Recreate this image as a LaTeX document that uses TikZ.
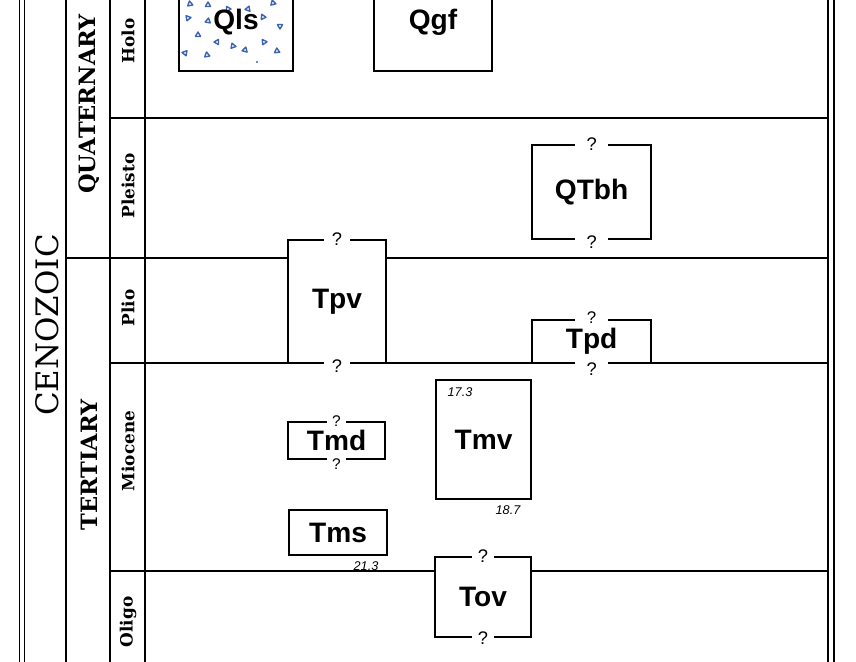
\documentclass[tikz,border=0pt]{standalone}
\usepackage{fontspec}
\newfontfamily\chartserif{DejaVu Serif}
\newfontfamily\lettering{Liberation Sans}
\definecolor{slideblue}{RGB}{60,100,175}

\begin{document}
\begin{tikzpicture}[
  frame/.style={line width=0.9pt},
  period/.style={line width=1.3pt},
  unit/.style={draw, line width=1.6pt, inner sep=0pt,
    font=\lettering\bfseries\fontsize{20}{24}\selectfont},
  qmark/.style={fill=white, inner xsep=0.2cm, inner ysep=0.5pt,
    font=\lettering\fontsize{13}{15}\selectfont},
  age/.style={inner sep=0pt, font=\lettering\itshape\fontsize{9}{10}\selectfont},
  era/.style={rotate=90, font=\chartserif\bfseries\fontsize{16}{18}\selectfont},
  epoch/.style={rotate=90, font=\chartserif\bfseries\fontsize{12}{14}\selectfont},
  slide/.style={slideblue, line width=1pt, line join=round}
]
\clip (0,0) rectangle (21.4,16.55);
% column frame
\draw[frame] (0.48,-0.2) -- (0.48,16.8);
\draw[frame] (0.62,-0.2) -- (0.62,16.8);
\draw[period] (1.65,-0.2) -- (1.65,16.8);
\draw[period] (2.75,-0.2) -- (2.75,16.8);
\draw[period] (3.625,-0.2) -- (3.625,16.8);
\draw[frame] (20.7,-0.2) -- (20.7,16.8);
\draw[frame] (20.85,-0.2) -- (20.85,16.8);
% landslide deposit: small blue triangles
\foreach \x/\y/\r in {
  4.75/16.45/10, 5.2/16.425/0, 5.7/16.325/30, 6.2/16.325/-20,
  6.825/16.475/15, 4.7/16.1/40, 5.2/16.025/-10, 6.575/16.125/25,
  7.0/15.9/60, 4.95/15.675/0, 5.425/15.5/-30, 5.825/15.4/20,
  6.125/15.3/-15, 6.6/15.5/35, 6.925/15.275/5, 4.625/15.225/-40,
  5.175/15.175/10
}{
  \draw[slide] (\x,\y) +(90+\r:0.075) -- +(210+\r:0.075) -- +(330+\r:0.075) -- cycle;
}
\fill[slideblue] (6.425,15.0) circle (0.03);
% map units
\node[unit, minimum width=2.85cm, minimum height=2.45cm] (qls) at (5.9,16.0) {Qls};
\node[unit, minimum width=2.95cm, minimum height=2.45cm] (qgf) at (10.825,16.0) {Qgf};
\node[unit, minimum width=2.975cm, minimum height=2.35cm] (qtbh) at (14.79,11.75) {QTbh};
\node[unit, minimum width=2.45cm, minimum height=3.075cm] (tpv) at (8.425,9.0125) {Tpv};
\node[unit, minimum width=2.975cm, minimum height=1.075cm] (tpd) at (14.79,8.0125) {\raisebox{-2.5pt}{Tpd}};
\node[unit, minimum width=2.425cm, minimum height=0.925cm] (tmd) at (8.4125,5.5375) {Tmd};
\node[unit, minimum width=2.375cm, minimum height=2.975cm] (tmv) at (12.0875,5.5625) {Tmv};
\node[unit, minimum width=2.45cm, minimum height=1.125cm] (tms) at (8.45,3.2375) {Tms};
\node[unit, minimum width=2.4cm, minimum height=2.0cm] (tov) at (12.075,1.625) {Tov};
% period and epoch boundaries
\coordinate (hp-l) at (2.75,13.6);
\coordinate (hp-r) at (20.7,13.6);
\coordinate (qt-l) at (1.65,10.1);
\coordinate (qt-r) at (20.7,10.1);
\coordinate (pm-l) at (2.75,7.475);
\coordinate (pm-r) at (20.7,7.475);
\coordinate (mo-l) at (2.75,2.275);
\coordinate (mo-r) at (20.7,2.275);
\draw[period] (hp-l) -- (hp-r);
\draw[period] (qt-l) -- (qt-l -| tpv.west) (qt-r -| tpv.east) -- (qt-r);
\draw[period] (pm-l) -- (pm-r);
\draw[period] (mo-l) -- (mo-l -| tov.west) (mo-r -| tov.east) -- (mo-r);
% uncertain contacts
\node[qmark, inner xsep=0.28cm] (qtbh-q1) at (qtbh.north) {?};
\node[qmark, inner xsep=0.28cm, yshift=-0.05cm] (qtbh-q2) at (qtbh.south) {?};
\node[qmark] (tpv-q1) at (tpv.north) {?};
\node[qmark, yshift=-0.05cm] (tpv-q2) at (tpv.south) {?};
\node[qmark, inner xsep=0.3cm, inner ysep=0pt, yshift=0.03cm,
  font=\lettering\fontsize{12}{14}\selectfont] (tpd-q1) at (tpd.north) {?};
\node[qmark, inner xsep=0.28cm, yshift=-0.12cm] (tpd-q2) at (tpd.south) {?};
\node[qmark, inner xsep=0.12cm, font=\lettering\fontsize{11}{13}\selectfont] (tmd-q1) at (tmd.north) {?};
\node[qmark, inner xsep=0.12cm, yshift=-0.1cm, font=\lettering\fontsize{11}{13}\selectfont] (tmd-q2) at (tmd.south) {?};
\node[qmark, inner xsep=0.15cm] (tov-q1) at (tov.north) {?};
\node[qmark, inner xsep=0.15cm] (tov-q2) at (tov.south) {?};
% radiometric ages
\node[age] (age173) at (11.5,6.75) {17.3};
\node[age] (age187) at (12.7,3.8) {18.7};
\node[age] (age213) at (9.15,2.4) {21.3};
% time scale labels
\node[rotate=90, font=\chartserif\fontsize{22}{26}\selectfont] (cenozoic) at (1.18,8.425) {CENOZOIC};
\node[era] (quaternary) at (2.23,13.95) {QUATERNARY};
\node[era] (tertiary) at (2.23,4.925) {TERTIARY};
\node[epoch] (holo) at (3.2,15.525) {Holo};
\node[epoch] (pleisto) at (3.2,11.9) {Pleisto};
\node[epoch] (plio) at (3.2,8.85) {Plio};
\node[epoch] (miocene) at (3.2,5.275) {Miocene};
\node[epoch] (oligo) at (3.2,1.0) {Oligo};
\end{tikzpicture}
\end{document}
